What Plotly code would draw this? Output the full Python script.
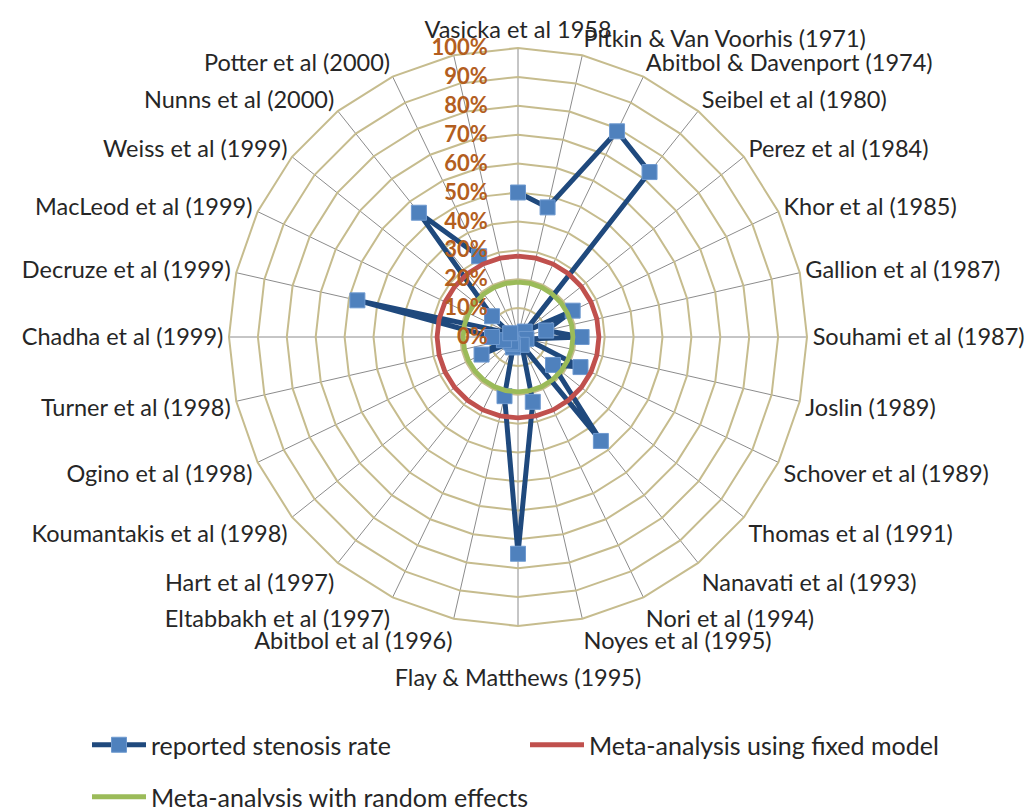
import plotly.graph_objects as go

studies = [
    "Vasicka et al 1958", "Pitkin & Van Voorhis (1971)", "Abitbol & Davenport (1974)",
    "Seibel et al (1980)", "Perez et al (1984)", "Khor et al (1985)", "Gallion et al (1987)",
    "Souhami et al (1987)", "Joslin (1989)", "Schover et al (1989)", "Thomas et al (1991)",
    "Nanavati et al (1993)", "Nori et al (1994)", "Noyes et al (1995)", "Flay & Matthews (1995)",
    "Abitbol et al (1996)", "Eltabbakh et al (1997)", "Hart et al (1997)",
    "Koumantakis et al (1998)", "Ogino et al (1998)", "Turner et al (1998)",
    "Chadha et al (1999)", "Decruze et al (1999)", "MacLeod et al (1999)",
    "Weiss et al (1999)", "Nunns et al (2000)", "Potter et al (2000)", " ",
]

stenosis_rate = [
    0.50, 0.46, 0.79, 0.73, 0.03, 0.21, 0.10, 0.22, 0.03, 0.24, 0.155, 0.46, 0.03, 0.23,
    0.75, 0.21, 0.04, 0.03, 0.03, 0.14, 0.05, 0.09, 0.57, 0.03, 0.115, 0.55, 0.31, None,
]

fixed_model = [0.28] * len(studies)
random_effects = [0.19] * len(studies)

radial_ticks = [i / 10 for i in range(11)]

# the bottom label sits one line lower so it does not run into its neighbours
angular_ticktext = [("<br>" + s) if s.startswith("Flay") else s for s in studies]

FONT = "Lato"
TXT = "#262626"

fig = go.Figure()

fig.add_trace(go.Scatterpolar(
    r=stenosis_rate, theta=studies, mode="lines+markers",
    name="reported stenosis rate",
    line=dict(color="#1F497D", width=5),
    marker=dict(symbol="square", size=15, color="#4F81BD", line=dict(color="#6F9AD0", width=1)),
    connectgaps=False, legend="legend",
))
fig.add_trace(go.Scatterpolar(
    r=fixed_model + fixed_model[:1], theta=studies + studies[:1], mode="lines",
    name="Meta-analysis using fixed model",
    line=dict(color="#C0504D", width=4.8), legend="legend2",
))
fig.add_trace(go.Scatterpolar(
    r=random_effects + random_effects[:1], theta=studies + studies[:1], mode="lines",
    name="Meta-analysis with random effects",
    line=dict(color="#9BBB59", width=4.8), legend="legend3",
))

legend_common = dict(
    orientation="h", xanchor="left", yanchor="middle", itemwidth=54,
    font=dict(family=FONT, size=25, color=TXT), bgcolor="rgba(0,0,0,0)",
)

fig.update_layout(
    width=1035, height=807,
    margin=dict(l=0, r=0, t=0, b=0, autoexpand=False),
    paper_bgcolor="white",
    font=dict(family=FONT, size=23, color=TXT),
    polar=dict(
        domain=dict(x=[229 / 1035, 807 / 1035], y=[1 - 626 / 807, 1 - 48 / 807]),
        bgcolor="white",
        gridshape="linear",
        angularaxis=dict(
            type="category", categoryarray=studies, direction="clockwise", rotation=90,
            tickmode="array", tickvals=studies, ticktext=angular_ticktext,
            showline=True, linecolor="#C6BC8E", linewidth=2,
            gridcolor="#8C8C8C", gridwidth=1,
            ticks="", tickfont=dict(family=FONT, size=23.5, color=TXT),
        ),
        radialaxis=dict(
            range=[0, 1], tickvals=radial_ticks, tickformat=".0%",
            angle=90, side="counterclockwise", tickangle=90,
            showline=False, gridcolor="#C6BC8E", gridwidth=2,
            ticks="outside", ticklen=22, tickcolor="rgba(0,0,0,0)",
            tickfont=dict(family=FONT, size=22, color="#B35E1E", weight="bold"),
            layer="above traces",
        ),
    ),
    legend=dict(x=87 / 1035, y=1 - 745 / 807, **legend_common),
    legend2=dict(x=525 / 1035, y=1 - 745 / 807, **legend_common),
    legend3=dict(x=87 / 1035, y=1 - 797 / 807, **legend_common),
    showlegend=True,
)

fig.write_html(
    "out.html",
    config={"displayModeBar": False},
    post_script="document.body.style.margin='0px';",
)
